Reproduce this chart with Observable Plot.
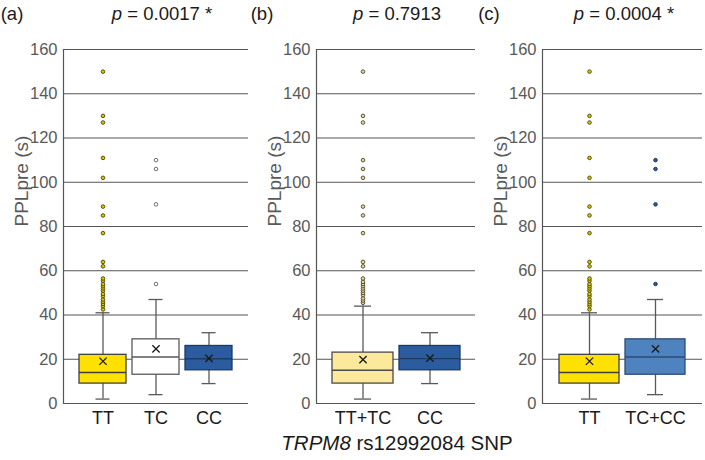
<!DOCTYPE html>
<html>
<head>
<meta charset="utf-8">
<script src="https://cdn.jsdelivr.net/npm/d3@7"></script>
<script src="https://cdn.jsdelivr.net/npm/@observablehq/plot@0.6"></script>
<style>
  html, body { margin: 0; padding: 0; background: #fff; }
  #wrap { position: relative; width: 705px; height: 460px; font-family: "Liberation Sans", Arial, sans-serif; color: #1a1a1a; overflow: hidden; }
  .panel { position: absolute; top: 0; }
  .panel svg { background: transparent !important; max-width: none !important; overflow: visible; }
  .lbl { position: absolute; white-space: nowrap; font-size: 18.5px; line-height: 1; transform: translate(-50%, -50%); }
</style>
</head>
<body>
<div id="wrap"></div>
<script>
// ---------- data ----------
const yTicks = [0, 20, 40, 60, 80, 100, 120, 140, 160];

// Panel (a)
const aCats  = ["TT", "TC", "CC"];
const aLow   = [2, 4, 9];
const aQ1    = [9, 13, 15];
const aMed   = [14, 21, 20.2];
const aQ3    = [22, 29, 26];
const aHigh  = [41, 47, 32];
const aMean  = [19.1, 24.7, 20.4];
const ttOutliers = [42.5, 44, 45, 46, 47, 48.5, 49.5, 51, 52, 53, 54, 55.5, 56.5, 62, 64, 77, 85, 89, 102, 111, 127, 130, 150];
const tcOutliers = [54, 90, 106, 110];

// Panel (b)
const bCats  = ["TT+TC", "CC"];
const bLow   = [2, 9];
const bQ1    = [9, 15];
const bMed   = [15, 20.3];
const bQ3    = [23, 26];
const bHigh  = [44, 32];
const bMean  = [19.8, 20.5];
const ttTcOutliers = [45.5, 46.5, 47.5, 49, 50, 51, 52, 53, 54, 55, 56.5, 62, 64, 77, 85, 89, 102, 106, 110, 127, 130, 150];

// Panel (c)
const cCats  = ["TT", "TC+CC"];
const cLow   = [2, 4];
const cQ1    = [9, 13];
const cMed   = [14, 21];
const cQ3    = [22, 29];
const cHigh  = [41, 47];
const cMean  = [19.1, 24.7];
const tcCcOutliers = [54, 90, 106, 110];

// ---------- styles ----------
const GRID = "#555555";
const styles = {
  "TT":    {fill: "#FFE100", stroke: "#404040", oFill: "#D9C400", oStroke: "#4a4700"},
  "TC":    {fill: "#FFFFFF", stroke: "#595959", oFill: "#FFFFFF", oStroke: "#5f5f5f"},
  "CC":    {fill: "#2B5C9F", stroke: "#1E3A63", oFill: "#2B5C9F", oStroke: "#1E3A63"},
  "TT+TC": {fill: "#FDE99C", stroke: "#4a4a4a", oFill: "#E8D795", oStroke: "#4a4630"},
  "TC+CC": {fill: "#4F83C0", stroke: "#2C4C78", oFill: "#2B5C9F", oStroke: "#1A3358"}
};

function stats(cats, low, q1, med, q3, high, mean) {
  return cats.map((c, i) => ({cat: c, low: low[i], q1: q1[i], med: med[i], q3: q3[i], high: high[i], mean: mean[i]}));
}
function outl(cat, vals) { return vals.map(v => ({cat, v})); }

function makePanel({left, width, marginLeft, marginRight, cats, data, outliers, pInner, pOuter, capInset}) {
  const fillOf = d => styles[d.cat].fill;
  const strokeOf = d => styles[d.cat].stroke;
  const plot = Plot.plot({
    width, height: 430,
    marginTop: 49, marginBottom: 27, marginLeft, marginRight,
    style: {fontFamily: '"Liberation Sans", Arial, sans-serif', background: "transparent", overflow: "visible"},
    x: {domain: cats, paddingInner: pInner, paddingOuter: pOuter},
    y: {domain: [0, 160]},
    marks: [
      Plot.ruleY(yTicks, {stroke: GRID, strokeWidth: 1, strokeOpacity: 1}),
      Plot.frame({anchor: "left", stroke: GRID, strokeWidth: 1.2}),
      Plot.ruleX(data, {x: "cat", y1: "low", y2: "high", stroke: "#595959", strokeWidth: 1.3}),
      Plot.tickY(data, {x: "cat", y: "low", stroke: "#595959", strokeWidth: 1.3, insetLeft: capInset, insetRight: capInset}),
      Plot.tickY(data, {x: "cat", y: "high", stroke: "#595959", strokeWidth: 1.3, insetLeft: capInset, insetRight: capInset}),
      Plot.barY(data, {x: "cat", y1: "q1", y2: "q3", fill: fillOf, stroke: strokeOf, strokeWidth: 1.3}),
      Plot.tickY(data, {x: "cat", y: "med", stroke: strokeOf, strokeWidth: 1.4}),
      Plot.dot(data, {x: "cat", y: "mean", symbol: "times", r: 3.4, stroke: "#1a1a1a", strokeWidth: 1.3}),
      Plot.dot(outliers, {x: "cat", y: "v", r: 1.8, fill: d => styles[d.cat].oFill, stroke: d => styles[d.cat].oStroke, strokeWidth: 0.9}),
      Plot.axisY({ticks: yTicks, tickSize: 0, tickPadding: 6, fontSize: 16.5, fill: "#595959", label: null}),
      Plot.axisX({tickSize: 0, tickPadding: 8, fontSize: 18, fill: "#1a1a1a", label: null}),
      Plot.text(["PPLpre (s)"], {frameAnchor: "left", dx: -42, rotate: -90, fontSize: 19, fill: "#595959"})
    ]
  });
  const div = document.createElement("div");
  div.className = "panel";
  div.style.left = left + "px";
  div.style.width = width + "px";
  div.appendChild(plot);
  document.getElementById("wrap").appendChild(div);
}

makePanel({
  left: 0, width: 252, marginLeft: 63, marginRight: 4,
  cats: aCats, data: stats(aCats, aLow, aQ1, aMed, aQ3, aHigh, aMean),
  outliers: [...outl("TT", ttOutliers), ...outl("TC", tcOutliers)],
  pInner: 0.107, pOuter: 0.285, capInset: 16.5
});
makePanel({
  left: 252, width: 230, marginLeft: 64, marginRight: 7,
  cats: bCats, data: stats(bCats, bLow, bQ1, bMed, bQ3, bHigh, bMean),
  outliers: outl("TT+TC", ttTcOutliers),
  pInner: 0.09, pOuter: 0.23, capInset: 22
});
makePanel({
  left: 482, width: 223, marginLeft: 60, marginRight: 3,
  cats: cCats, data: stats(cCats, cLow, cQ1, cMed, cQ3, cHigh, cMean),
  outliers: [...outl("TT", ttOutliers), ...outl("TC+CC", tcCcOutliers)],
  pInner: 0.09, pOuter: 0.24, capInset: 22
});

// ---------- titles ----------
const wrap = document.getElementById("wrap");
function label(html, x, y, extra) {
  const d = document.createElement("div");
  d.className = "lbl";
  d.innerHTML = html;
  d.style.left = x + "px";
  d.style.top = y + "px";
  if (extra) Object.assign(d.style, extra);
  wrap.appendChild(d);
}
label("(a)", 12, 14);
label("<i>p</i> = 0.0017 *", 162, 14);
label("(b)", 262, 14);
label("<i>p</i> = 0.7913", 397, 14);
label("(c)", 489, 14);
label("<i>p</i> = 0.0004 *", 624, 14);
label("<i>TRPM8</i> rs12992084 SNP", 397, 443, {fontSize: "20.5px"});
</script>
</body>
</html>
